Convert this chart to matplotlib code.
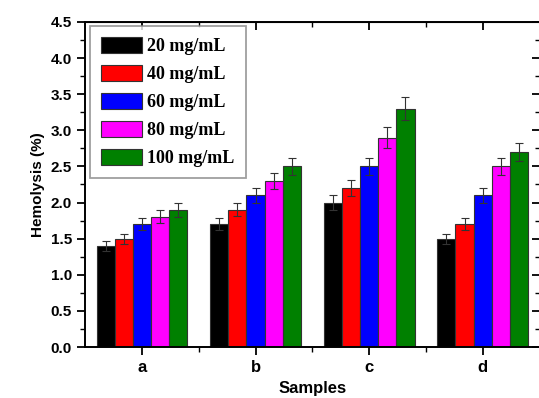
import numpy as np
import matplotlib.pyplot as plt
from matplotlib.ticker import MultipleLocator, FixedLocator, NullFormatter

samples = ['a', 'b', 'c', 'd']
conc = ['20 mg/mL', '40 mg/mL', '60 mg/mL', '80 mg/mL', '100 mg/mL']
colors = ['#000000', '#ff0000', '#0000ff', '#ff00ff', '#008000']

# hemolysis (%) per concentration, one value per sample a-d
h20 = [1.4, 1.7, 2.0, 1.5]
h40 = [1.5, 1.9, 2.2, 1.7]
h60 = [1.7, 2.1, 2.5, 2.1]
h80 = [1.8, 2.3, 2.9, 2.5]
h100 = [1.9, 2.5, 3.3, 2.7]

e20 = [0.07, 0.08, 0.10, 0.07]
e40 = [0.07, 0.09, 0.11, 0.08]
e60 = [0.08, 0.10, 0.12, 0.10]
e80 = [0.09, 0.11, 0.15, 0.12]
e100 = [0.10, 0.12, 0.16, 0.13]

values = [h20, h40, h60, h80, h100]
errors = [e20, e40, e60, e80, e100]

fig = plt.figure(figsize=(5.39, 3.98), dpi=100)
ax = fig.add_axes([0.158, 0.128, 0.843, 0.817])

x = np.arange(len(samples))
w = 0.16
for i in range(5):
    ax.bar(x + (i - 2) * w, values[i], w, yerr=errors[i], color=colors[i],
           edgecolor='#333333', linewidth=0.8, label=conc[i],
           error_kw=dict(ecolor='#333333', elinewidth=0.8, capsize=3, capthick=0.8))

ax.set_xlim(-0.5, 3.5)
ax.set_ylim(0, 4.5)
ax.set_xticks(x)
ax.set_xticklabels(samples, fontsize=12, fontweight='bold', family='Liberation Sans')
ax.xaxis.set_minor_locator(FixedLocator(x[:-1] + 0.5))
ax.yaxis.set_major_locator(MultipleLocator(0.5))
ax.yaxis.set_minor_locator(MultipleLocator(0.25))
ax.set_yticklabels(['%.1f' % v for v in ax.get_yticks()], fontsize=11,
                   fontweight='bold', family='Liberation Sans')
ax.tick_params(which='major', direction='out', length=6, width=1.3)
ax.tick_params(which='minor', direction='out', length=3.5, width=1.0)

# inward ticks on top and right
top = ax.secondary_xaxis('top')
top.set_xticks(x)
top.xaxis.set_minor_locator(FixedLocator(x[:-1] + 0.5))
top.xaxis.set_major_formatter(NullFormatter())
top.tick_params(which='major', direction='in', length=6, width=1.3)
top.tick_params(which='minor', direction='in', length=3.5, width=1.0)
right = ax.secondary_yaxis('right')
right.yaxis.set_major_locator(MultipleLocator(0.5))
right.yaxis.set_minor_locator(MultipleLocator(0.25))
right.yaxis.set_major_formatter(NullFormatter())
right.tick_params(which='major', direction='in', length=6, width=1.3)
right.tick_params(which='minor', direction='in', length=3.5, width=1.0)

for s in ax.spines.values():
    s.set_linewidth(1.4)

ax.set_ylabel('Hemolysis (%)', fontsize=11, fontweight='bold', family='Liberation Sans')
ax.set_xlabel('Samples', fontsize=12, fontweight='bold', family='Liberation Sans', labelpad=4)

leg = ax.legend(loc='upper left', prop={'family': 'Liberation Serif', 'weight': 'bold', 'size': 13},
                fancybox=False, edgecolor='#888888', handlelength=2.3, handleheight=0.95,
                handletextpad=0.3, borderpad=0.6, labelspacing=0.55,
                bbox_to_anchor=(0.0, 1.0), borderaxespad=0.25)
leg.get_frame().set_linewidth(1.3)

fig.savefig('out.png', dpi=100)
